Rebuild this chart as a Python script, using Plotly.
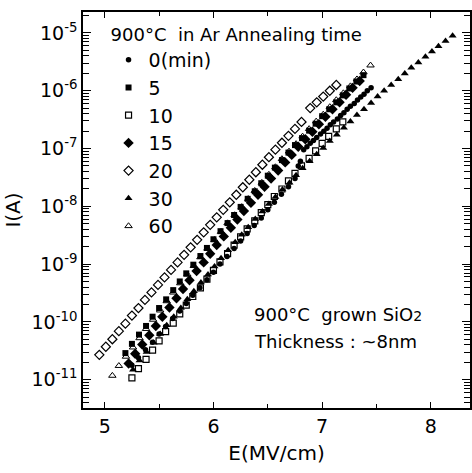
import plotly.graph_objects as go

# ---- data: E (MV/cm) and log10 of I (A) ----
E_0 = [5.25, 5.31, 5.375, 5.44, 5.50, 5.56, 5.625, 5.69, 5.75, 5.81, 5.875, 5.94, 6.00, 6.06, 6.125,
       6.19, 6.25, 6.31, 6.375, 6.44, 6.50, 6.56, 6.625, 6.69, 6.75, 6.78, 6.80,
       6.83, 6.86, 6.89, 6.92, 6.95, 6.985, 7.015, 7.045, 7.075, 7.105, 7.14, 7.17, 7.20, 7.23,
       7.26, 7.295, 7.325, 7.355, 7.385, 7.415, 7.45]
logI_0 = [-10.75, -10.62, -10.48, -10.35, -10.21, -10.08, -9.94, -9.81, -9.68, -9.54, -9.41, -9.27, -9.14, -9.00, -8.87,
          -8.73, -8.60, -8.47, -8.33, -8.20, -8.06, -7.93, -7.79, -7.66, -7.52, -7.30, -7.22,
          -7.02, -6.97, -6.91, -6.86, -6.81, -6.75, -6.70, -6.65, -6.59, -6.54, -6.49, -6.43, -6.38, -6.32,
          -6.27, -6.22, -6.16, -6.11, -6.06, -6.00, -5.95]

E_5 = [5.19, 5.25, 5.315, 5.38, 5.44, 5.50, 5.565, 5.63, 5.69, 5.75, 5.815, 5.88, 5.94, 6.00, 6.065, 6.13,
       6.19, 6.25, 6.315, 6.38, 6.44, 6.50, 6.565, 6.63, 6.69, 6.75, 6.815, 6.88, 6.94, 7.00, 7.065, 7.13,
       7.19, 7.25, 7.315, 7.38]
logI_5 = [-10.54, -10.38, -10.22, -10.07, -9.91, -9.76, -9.61, -9.45, -9.30, -9.16, -9.01, -8.86, -8.72, -8.57, -8.43, -8.29,
          -8.15, -8.01, -7.87, -7.74, -7.60, -7.47, -7.33, -7.20, -7.07, -6.94, -6.82, -6.69, -6.57, -6.44, -6.32, -6.20,
          -6.08, -5.96, -5.84, -5.73]

E_10 = [5.25, 5.31, 5.38, 5.44, 5.50, 5.56, 5.63, 5.69, 5.75, 5.81, 5.88, 5.94, 6.00, 6.06, 6.13, 6.19,
        6.25, 6.31, 6.38, 6.44, 6.50, 6.56, 6.63, 6.69, 6.75, 6.81, 6.88, 6.94, 7.00, 7.06, 7.13, 7.19]
logI_10 = [-10.97, -10.81, -10.65, -10.49, -10.33, -10.17, -10.02, -9.86, -9.71, -9.56, -9.41, -9.26, -9.11, -8.96, -8.82, -8.67,
           -8.53, -8.39, -8.25, -8.11, -7.97, -7.83, -7.70, -7.56, -7.43, -7.30, -7.17, -7.04, -6.91, -6.79, -6.66, -6.54]

E_15 = [5.22, 5.28, 5.345, 5.41, 5.47, 5.53, 5.595, 5.66, 5.72, 5.78, 5.845, 5.91, 5.97, 6.03, 6.095, 6.16, 6.22, 6.28,
        6.345, 6.41, 6.47, 6.53, 6.595, 6.66, 6.72, 6.78, 6.845, 6.91, 6.97, 7.03, 7.095, 7.16, 7.22, 7.28, 7.345]
logI_15 = [-10.72, -10.55, -10.39, -10.23, -10.07, -9.91, -9.75, -9.59, -9.43, -9.28, -9.12, -8.97, -8.82, -8.67, -8.52, -8.37, -8.23, -8.08,
           -7.94, -7.80, -7.66, -7.52, -7.38, -7.24, -7.11, -6.97, -6.84, -6.71, -6.58, -6.45, -6.32, -6.20, -6.07, -5.95, -5.83]

E_20 = [4.95, 5.01, 5.07, 5.13, 5.19, 5.25, 5.31, 5.37, 5.43, 5.49, 5.55, 5.61, 5.67, 5.73, 5.79, 5.85,
        5.91, 5.97, 6.03, 6.09, 6.15, 6.21, 6.27, 6.33, 6.39, 6.45, 6.51, 6.57, 6.63, 6.69, 6.75, 6.81,
        6.89, 6.95, 7.01, 7.07, 7.13]
logI_20 = [-10.57, -10.43, -10.30, -10.16, -10.03, -9.89, -9.76, -9.62, -9.49, -9.36, -9.23, -9.10, -8.97, -8.84, -8.71, -8.58,
           -8.45, -8.32, -8.19, -8.06, -7.93, -7.80, -7.67, -7.54, -7.41, -7.28, -7.15, -7.02, -6.90, -6.78, -6.66, -6.54,
           -6.30, -6.20, -6.10, -6.00, -5.90]

E_30 = [5.26, 5.32, 5.385, 5.45, 5.51, 5.57, 5.635, 5.70, 5.76, 5.82, 5.885, 5.95, 6.01, 6.07, 6.135, 6.20,
        6.26, 6.32, 6.385, 6.45, 6.51, 6.57, 6.635, 6.70, 6.76, 6.82, 6.885, 6.95, 7.01, 7.07, 7.135, 7.20,
        7.26, 7.32, 7.385, 7.45, 7.51, 7.57, 7.635, 7.70, 7.76, 7.82, 7.885, 7.95, 8.01, 8.07, 8.135, 8.20]
logI_30 = [-10.83, -10.67, -10.52, -10.36, -10.21, -10.06, -9.91, -9.76, -9.61, -9.47, -9.32, -9.18, -9.04, -8.90, -8.76, -8.62,
           -8.49, -8.36, -8.22, -8.09, -7.96, -7.84, -7.71, -7.59, -7.46, -7.34, -7.22, -7.10, -6.99, -6.87, -6.76, -6.64,
           -6.53, -6.42, -6.32, -6.21, -6.10, -6.00, -5.90, -5.80, -5.70, -5.60, -5.51, -5.41, -5.32, -5.23, -5.14, -5.05]

E_60 = [5.07, 5.13, 5.195, 5.26, 5.32, 5.38, 5.445, 5.51, 5.57, 5.63, 5.695, 5.76, 5.82, 5.88, 5.945, 6.01,
        6.07, 6.13, 6.195, 6.26, 6.32, 6.38, 6.445, 6.51, 6.57, 6.63, 6.695, 6.76, 6.82, 6.88, 6.945, 7.01,
        7.07, 7.13, 7.195, 7.26, 7.32, 7.38, 7.445]
logI_60 = [-10.93, -10.76, -10.60, -10.44, -10.28, -10.12, -9.96, -9.80, -9.64, -9.49, -9.33, -9.18, -9.03, -8.88, -8.73, -8.58,
           -8.44, -8.29, -8.15, -8.01, -7.87, -7.73, -7.59, -7.45, -7.32, -7.18, -7.05, -6.92, -6.79, -6.66, -6.53, -6.41,
           -6.28, -6.16, -6.04, -5.92, -5.80, -5.68, -5.56]

legend_names = ["0(min)", "5", "10", "15", "20", "30", "60"]
y_tick_exponents = [-11, -10, -9, -8, -7, -6, -5]
x_tick_values = [5, 6, 7, 8]

FONT = "DejaVu Sans, Verdana, sans-serif"

series = [
    (legend_names[0], E_0, logI_0, "circle", 5.5, 0),
    (legend_names[1], E_5, logI_5, "square", 6, 0),
    (legend_names[2], E_10, logI_10, "square-open", 6, 1.2),
    (legend_names[3], E_15, logI_15, "diamond", 8, 0),
    (legend_names[4], E_20, logI_20, "diamond-open", 7, 1.2),
    (legend_names[5], E_30, logI_30, "triangle-up", 7, 0),
    (legend_names[6], E_60, logI_60, "triangle-up-open", 6.5, 1.0),
]

fig = go.Figure()
for i, (name, ex, ly, sym, size, lw) in enumerate(series):
    fig.add_trace(go.Scatter(
        x=ex, y=[10 ** v for v in ly], mode="markers", name=name,
        legendgroup=f"g{i}",
        marker=dict(symbol=sym, size=size, color="black",
                    line=dict(color="black", width=lw)),
    ))

minor_vals = [k * 10.0 ** n for n in range(-12, -4) for k in range(2, 10)]

fig.update_layout(
    width=472, height=473,
    margin=dict(l=83, r=0, t=12, b=65),
    paper_bgcolor="white", plot_bgcolor="white",
    font=dict(family=FONT, color="black", size=19),
    showlegend=True,
    legend=dict(
        x=0.066, y=0.986, xanchor="left", yanchor="top",
        bgcolor="rgba(0,0,0,0)", borderwidth=0,
        font=dict(family=FONT, size=19, color="black"),
        title=dict(text="900°C  in Ar Annealing time", font=dict(family=FONT, size=18)),
        tracegroupgap=0, itemwidth=30,
    ),
    xaxis=dict(
        range=[4.80, 8.36], tickvals=x_tick_values, ticktext=[str(v) for v in x_tick_values],
        ticks="inside", ticklen=6, tickwidth=1.3, tickcolor="black",
        minor=dict(tickvals=[5.5, 6.5, 7.5], ticks="inside", ticklen=4, tickcolor="black"),
        showline=True, linecolor="black", linewidth=1.5, mirror="allticks",
        showgrid=False, zeroline=False,
        tickfont=dict(family=FONT, size=19),
        title=dict(text="E(MV/cm)", font=dict(family=FONT, size=20), standoff=10),
    ),
    yaxis=dict(
        type="log", range=[-11.49, -4.637],
        tickvals=[10.0 ** e for e in y_tick_exponents],
        ticktext=[f"10<sup>{e}</sup>" for e in y_tick_exponents],
        ticks="inside", ticklen=8, tickwidth=1.2, tickcolor="black",
        minor=dict(tickvals=minor_vals, ticks="inside", ticklen=6, tickcolor="black", tickwidth=1),
        showline=True, linecolor="black", linewidth=1.5, mirror="allticks",
        showgrid=False, zeroline=False,
        tickfont=dict(family=FONT, size=19),
        title=dict(text="I(A)", font=dict(family=FONT, size=20), standoff=6),
    ),
    annotations=[
        dict(xref="paper", yref="paper", x=0.437, y=0.235, xanchor="left", yanchor="middle",
             text="900°C  grown SiO<span style='font-size:14px'>2</span>", showarrow=False,
             font=dict(family=FONT, size=18)),
        dict(xref="paper", yref="paper", x=0.437, y=0.167, xanchor="left", yanchor="middle",
             text="Thickness : ~8nm", showarrow=False, font=dict(family=FONT, size=18)),
    ],
)

fig.write_html("out.html")
